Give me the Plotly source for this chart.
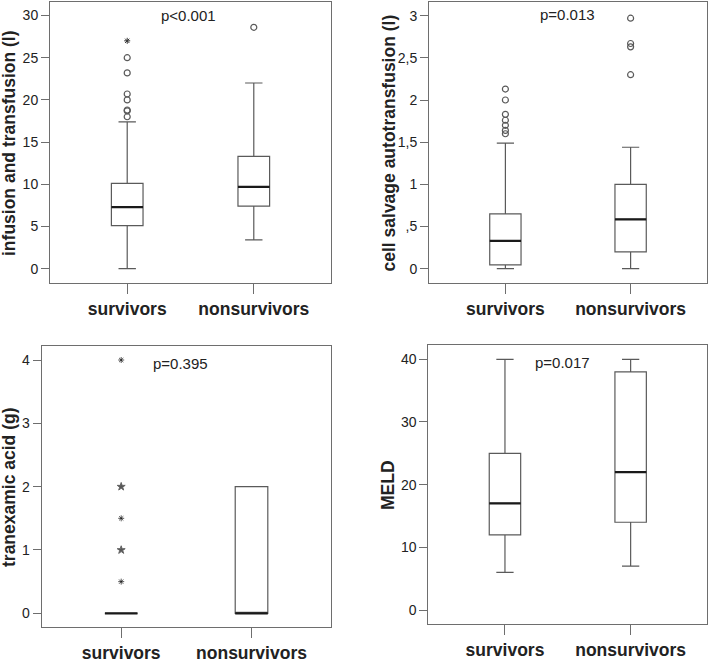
import plotly.graph_objects as go

groups = ["survivors", "nonsurvivors"]

# Panel 1: infusion and transfusion (l)
inf_q1 = [5.1, 7.4]
inf_med = [7.3, 9.7]
inf_q3 = [10.1, 13.3]
inf_lo = [0.0, 3.4]
inf_hi = [17.4, 22.0]
inf_out_x = ["survivors"] * 7 + ["nonsurvivors"]
inf_out_y = [18.0, 18.7, 18.8, 20.0, 20.7, 23.2, 25.0, 28.6]
inf_ext_x = ["survivors"]
inf_ext_y = [27.0]

# Panel 2: cell salvage autotransfusion (l)
cs_q1 = [0.045, 0.20]
cs_med = [0.33, 0.585]
cs_q3 = [0.65, 1.0]
cs_lo = [0.0, 0.0]
cs_hi = [1.49, 1.44]
cs_out_x = ["survivors"] * 7 + ["nonsurvivors"] * 4
cs_out_y = [1.60, 1.64, 1.70, 1.76, 1.83, 2.0, 2.13, 2.30, 2.63, 2.67, 2.97]

# Panel 3: tranexamic acid (g)
tx_q1 = [0.0, 0.0]
tx_med = [0.0, 0.0]
tx_q3 = [0.0, 2.0]
tx_lo = [0.0, 0.0]
tx_hi = [0.0, 2.0]
tx_ext_x = ["survivors"] * 5
tx_ext_y = [4.0, 2.0, 1.5, 1.0, 0.5]
tx_ext_n = [1, 3, 1, 3, 1]

# Panel 4: MELD
meld_q1 = [12, 14]
meld_med = [17, 22]
meld_q3 = [25, 38]
meld_lo = [6, 7]
meld_hi = [40, 40]

LINE = "#5a5a5a"
FRAME = "#6e6e6e"
TXT = "#222222"
FONT = "Liberation Sans"

fig = go.Figure()

panels = [
    dict(ax="", q1=inf_q1, med=inf_med, q3=inf_q3, lo=inf_lo, hi=inf_hi),
    dict(ax="2", q1=cs_q1, med=cs_med, q3=cs_q3, lo=cs_lo, hi=cs_hi),
    dict(ax="3", q1=tx_q1, med=tx_med, q3=tx_q3, lo=tx_lo, hi=tx_hi),
    dict(ax="4", q1=meld_q1, med=meld_med, q3=meld_q3, lo=meld_lo, hi=meld_hi),
]

for p in panels:
    xa = "x" + p["ax"]
    ya = "y" + p["ax"]
    fig.add_trace(go.Box(
        x=groups, q1=p["q1"], median=p["med"], q3=p["q3"],
        lowerfence=p["lo"], upperfence=p["hi"],
        width=0.25, whiskerwidth=0.55,
        line=dict(color=LINE, width=1.2), fillcolor="rgba(255,255,255,0)",
        boxpoints=False, showlegend=False, xaxis=xa, yaxis=ya,
    ))
    # thicker median line
    fig.add_trace(go.Box(
        x=groups, q1=p["med"], median=p["med"], q3=p["med"],
        lowerfence=p["med"], upperfence=p["med"],
        width=0.25, whiskerwidth=0,
        line=dict(color="#1a1a1a", width=2.2), fillcolor="rgba(255,255,255,0)",
        boxpoints=False, showlegend=False, xaxis=xa, yaxis=ya,
    ))

circle = dict(symbol="circle-open", size=6, color=LINE, line=dict(width=1.2, color=LINE))
ast = dict(symbol="asterisk-open", size=5, color="#333", line=dict(width=1, color="#333"))

fig.add_trace(go.Scatter(x=inf_out_x, y=inf_out_y, mode="markers", marker=circle,
                         showlegend=False, xaxis="x", yaxis="y"))
fig.add_trace(go.Scatter(x=inf_ext_x, y=inf_ext_y, mode="markers", marker=ast,
                         showlegend=False, xaxis="x", yaxis="y"))
fig.add_trace(go.Scatter(x=cs_out_x, y=cs_out_y, mode="markers", marker=circle,
                         showlegend=False, xaxis="x2", yaxis="y2"))
fig.add_trace(go.Scatter(
    x=tx_ext_x, y=tx_ext_y, mode="markers",
    marker=dict(symbol=["star" if n > 1 else "asterisk-open" for n in tx_ext_n],
                size=[6 if n > 1 else 5 for n in tx_ext_n],
                color="#111", line=dict(width=1, color="#222")),
    showlegend=False, xaxis="x3", yaxis="y3"))

W, H = 709, 659
def dx(a, b):
    return [a / W, b / W]
def dy(top, bot):
    return [1 - bot / H, 1 - top / H]

xaxis_common = dict(type="category", range=[-0.61, 1.61], showline=True, mirror=True,
                    linecolor=FRAME, linewidth=1, ticks="outside", ticklen=10,
                    tickcolor=FRAME, tickwidth=1, showgrid=False, zeroline=False,
                    automargin=False,
                    tickfont=dict(family=FONT, size=17.5, color=TXT, weight="bold"))
yaxis_common = dict(showline=True, mirror=True, linecolor=FRAME, linewidth=1,
                    ticks="outside", ticklen=8, tickcolor=FRAME, tickwidth=1,
                    showgrid=False, zeroline=False, automargin=False,
                    tickfont=dict(family=FONT, size=14, color=TXT))

fig.update_layout(
    width=W, height=H, margin=dict(l=0, r=0, t=0, b=0, autoexpand=False),
    paper_bgcolor="white", plot_bgcolor="white", boxmode="overlay",
    xaxis=dict(xaxis_common, domain=dx(50, 331), anchor="y"),
    yaxis=dict(yaxis_common, domain=dy(2, 283), anchor="x", range=[-1.7, 31.6],
               tickvals=[0, 5, 10, 15, 20, 25, 30]),
    xaxis2=dict(xaxis_common, domain=dx(429, 707), anchor="y2"),
    yaxis2=dict(yaxis_common, domain=dy(2, 283.3), anchor="x2", range=[-0.173, 3.162],
                tickvals=[0, 0.5, 1, 1.5, 2, 2.5, 3],
                ticktext=["0", ",5", "1", "1,5", "2", "2,5", "3"]),
    xaxis3=dict(xaxis_common, domain=dx(41.7, 331), anchor="y3"),
    yaxis3=dict(yaxis_common, domain=dy(345.7, 627.3), anchor="x3", range=[-0.221, 4.226],
                tickvals=[0, 1, 2, 3, 4]),
    xaxis4=dict(xaxis_common, domain=dx(428.3, 707.3), anchor="y4"),
    yaxis4=dict(yaxis_common, domain=dy(345, 624), anchor="x4", range=[-2.23, 42.28],
                tickvals=[0, 10, 20, 30, 40]),
)

titles = [
    ("infusion and transfusion (l)", 9, 143),
    ("cell salvage autotransfusion (l)", 388.5, 143),
    ("tranexamic acid (g)", 9.5, 487.5),
    ("MELD", 388, 485),
]
for t, px, py in titles:
    fig.add_annotation(text="<b>" + t + "</b>", x=px / W, y=1 - py / H, xref="paper", yref="paper",
                       textangle=-90, showarrow=False, xanchor="center", yanchor="middle",
                       font=dict(family=FONT, size=17.5, color=TXT))

pvals = [
    ("p<0.001", 189, 15.7),
    ("p=0.013", 567, 15),
    ("p=0.395", 180, 363.3),
    ("p=0.017", 562.5, 362.7),
]
for t, px, py in pvals:
    fig.add_annotation(text=t, x=px / W, y=1 - py / H, xref="paper", yref="paper",
                       showarrow=False, xanchor="center", yanchor="middle",
                       font=dict(family=FONT, size=15, color=TXT))

fig.write_html("out.html", config={"displayModeBar": False},
               post_script="document.body.style.margin='0';document.body.style.padding='0';")
